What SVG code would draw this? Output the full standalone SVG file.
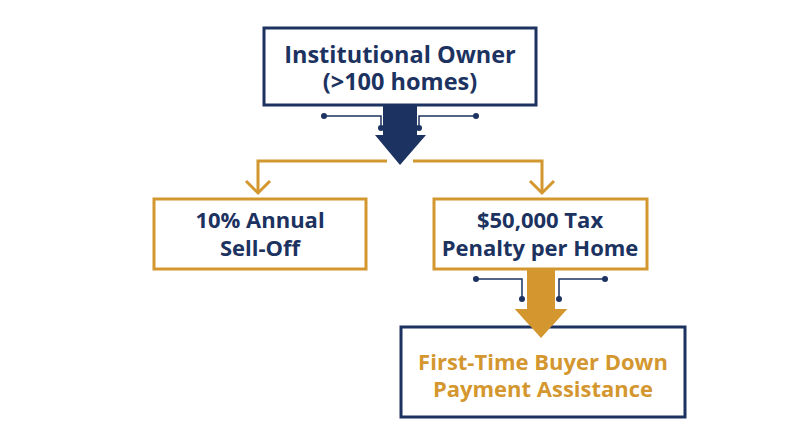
<svg xmlns="http://www.w3.org/2000/svg" width="800" height="447" viewBox="0 0 800 447">
<style>
.bg{fill:#ffffff}
.nbox{fill:#ffffff;stroke:#1c3260;stroke-width:3}
.obox{fill:#ffffff;stroke:#d4972f;stroke-width:3}
.t{font-family:"Open Sans","Liberation Sans",sans-serif;font-weight:700;text-anchor:middle}
.tn{fill:#1c3260}
.to{fill:#d4972f}
.wire{fill:none;stroke:#1c3260;stroke-width:1.5}
.dot{fill:#1c3260}
.ol{fill:none;stroke:#d4972f;stroke-width:3}
</style>
<rect class="bg" width="800" height="447"/>
<g id="connectors">
  <path d="M383,106 V135 H375 L400,165 L426,135 H417 V106 Z" fill="#1c3260"/>
  <path class="wire" d="M324,116 H381 V128"/>
  <circle class="dot" cx="324" cy="116" r="3"/>
  <circle class="dot" cx="381" cy="128" r="3"/>
  <path class="wire" d="M476,116 H419 V128"/>
  <circle class="dot" cx="476" cy="116" r="3"/>
  <circle class="dot" cx="419" cy="128" r="3"/>
  <path class="ol" d="M387,161 H258 V192"/>
  <path class="ol" d="M246,181 L258,193 L270,181"/>
  <path class="ol" d="M413,161 H542 V192"/>
  <path class="ol" d="M530,181 L542,193 L554,181"/>
  <path d="M527,270 V309 H515 L541,338 L567,309 H555 V270 Z" fill="#d4972f"/>
  <path class="wire" d="M476,279 H522 V299"/>
  <circle class="dot" cx="476" cy="279" r="3"/>
  <circle class="dot" cx="522" cy="299" r="3"/>
  <path class="wire" d="M605,279 H559 V299"/>
  <circle class="dot" cx="605" cy="279" r="3"/>
  <circle class="dot" cx="559" cy="299" r="3"/>
</g>
<g id="owner">
  <rect class="nbox" x="264" y="28" width="272" height="77"/>
  <text class="t tn" x="400" y="63" font-size="23.5">Institutional Owner</text>
  <text class="t tn" x="400" y="90" font-size="23.5">(&gt;100 homes)</text>
</g>
<g id="selloff">
  <rect class="obox" x="154" y="199" width="212" height="70"/>
  <text class="t tn" x="260" y="228" font-size="22">10% Annual</text>
  <text class="t tn" x="260" y="256" font-size="22">Sell-Off</text>
</g>
<g id="penalty">
  <rect class="obox" x="434" y="199" width="213" height="70"/>
  <text class="t tn" x="540" y="228" font-size="22">$50,000 Tax</text>
  <text class="t tn" x="540" y="256" font-size="22">Penalty per Home</text>
</g>
<g id="assistance">
  <rect class="nbox" x="401" y="327" width="284" height="90"/>
  <path d="M515,309 L541,338 L567,309 Z" fill="#d4972f"/>
  <text class="t to" x="543" y="370" font-size="22">First-Time Buyer Down</text>
  <text class="t to" x="543" y="397" font-size="22">Payment Assistance</text>
</g>
</svg>
